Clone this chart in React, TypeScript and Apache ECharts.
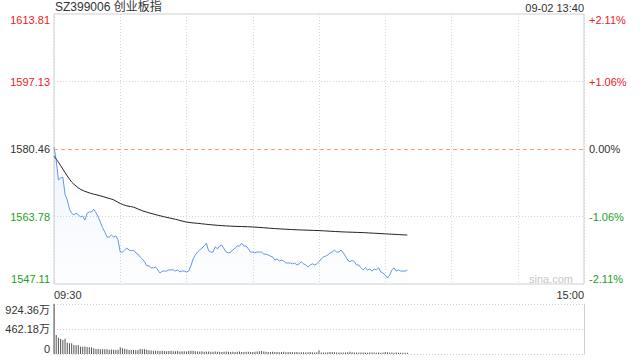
import React, { useEffect, useRef } from "react";
import * as echarts from "echarts";

const title = "SZ399006 创业板指";
const timeStamp = "09-02 13:40";
const timeLabels = ["09:30", "15:00"];
const priceTicks = [1547.11, 1563.78, 1580.46, 1597.13, 1613.81];
const priceTickLabels = ["1547.11", "1563.78", "1580.46", "1597.13", "1613.81"];
const pctTickLabels = ["-2.11%", "-1.06%", "0.00%", "+1.06%", "+2.11%"];
const volTickLabels = ["0", "462.18万", "924.36万"];
const volMax = 924.36;
const totalMinutes = 240;

// minute-by-minute price, 09:30 .. 13:40 (index 0..160)
const prices = [
  1580.9, 1577.7, 1572.8, 1573.3, 1573.5, 1569.3, 1567.9, 1565.6, 1564.6, 1564.2,
  1564.6, 1564.2, 1563.7, 1563.9, 1562.9, 1564.6, 1564.9, 1564.9, 1565.6, 1564.7,
  1563.7, 1562.4, 1561.0, 1560.0, 1558.7, 1558.7, 1559.2, 1558.7, 1559.0, 1558.0,
  1555.0, 1555.0, 1555.5, 1556.0, 1555.5, 1555.3, 1555.5, 1554.8, 1554.5, 1553.8,
  1553.3, 1552.6, 1551.6, 1551.6, 1551.1, 1551.1, 1551.3, 1550.6, 1549.8, 1550.3,
  1550.3, 1550.3, 1550.6, 1550.6, 1550.6, 1550.3, 1550.6, 1550.1, 1550.3, 1550.3,
  1550.1, 1550.3, 1551.6, 1553.3, 1554.3, 1555.0, 1555.5, 1556.0, 1556.5, 1557.2,
  1555.3, 1555.0, 1555.0, 1556.3, 1555.8, 1556.5, 1556.7, 1555.8, 1555.0, 1554.8,
  1555.0, 1555.5, 1556.0, 1556.5, 1556.5, 1557.2, 1556.5, 1556.5, 1555.8, 1555.0,
  1555.0, 1554.8, 1555.0, 1555.0, 1555.0, 1554.5, 1554.5, 1554.3, 1554.0, 1553.8,
  1553.0, 1553.3, 1552.8, 1553.0, 1552.8, 1552.3, 1552.3, 1552.3, 1552.1, 1552.3,
  1551.8, 1552.1, 1552.6, 1552.1, 1551.8, 1551.3, 1551.8, 1552.1, 1551.8, 1552.1,
  1552.6, 1553.3, 1553.8, 1554.0, 1554.3, 1554.8, 1555.0, 1555.5, 1555.0, 1555.0,
  1555.5, 1554.8, 1554.0, 1553.0, 1552.6, 1553.0, 1552.6, 1551.8, 1551.8, 1551.1,
  1550.6, 1551.1, 1550.6, 1550.8, 1550.3, 1550.8, 1550.6, 1551.1, 1550.1, 1549.8,
  1549.3, 1548.6, 1549.3, 1550.6, 1551.1, 1550.3, 1550.6, 1550.3, 1550.3, 1550.3,
  1550.6,
];

// average price line, sampled at minute indexes
const avgMinutes = [0, 2, 4, 6, 8, 10, 12, 15, 18, 21, 24, 27, 30, 33, 36, 40, 45, 50, 55, 60, 65, 72, 80, 90, 100, 110, 120, 130, 140, 150, 160];
const avgPrices = [
  1578.7, 1577.2, 1575.5, 1573.8, 1572.3, 1571.3, 1570.5, 1569.8, 1569.3, 1568.9,
  1568.4, 1567.9, 1567.0, 1566.4, 1566.1, 1565.2, 1564.4, 1563.7, 1563.1, 1562.4,
  1562.1, 1561.7, 1561.4, 1561.2, 1560.8, 1560.5, 1560.3, 1560.0, 1559.8, 1559.5,
  1559.2,
];

// volume per minute (万)
const volumes = [
  924.36, 351, 302, 277, 259, 280, 210, 197, 199, 166,
  163, 160, 136, 134, 138, 129, 123, 126, 105, 92,
  95, 86, 88, 90, 86, 80, 84, 78, 74, 80,
  124, 105, 98, 86, 74, 72, 76, 70, 74, 92,
  90, 86, 80, 70, 66, 60, 62, 58, 55, 60,
  56, 52, 55, 60, 52, 50, 55, 48, 52, 50,
  47, 55, 60, 58, 52, 48, 45, 50, 43, 48,
  44, 40, 42, 46, 40, 43, 38, 42, 45, 40,
  36, 42, 38, 40, 44, 38, 36, 40, 42, 37,
  35, 40, 48, 52, 56, 45, 40, 38, 36, 40,
  35, 38, 34, 36, 40, 33, 35, 38, 34, 32,
  36, 30, 34, 32, 30, 33, 35, 31, 29, 32,
  70, 28, 30, 27, 32, 35, 38, 32, 30, 28,
  26, 30, 28, 32, 40, 34, 30, 28, 26, 29,
  27, 30, 25, 28, 26, 30, 24, 27, 25, 28,
  38, 32, 28, 26, 24, 27, 22, 25, 23, 21,
  24,
];

const RED = "#f02020";
const GREEN = "#22a022";
const DARK = "#333";
const FONT = "Arial, 'Liberation Sans', 'Noto Sans CJK SC', sans-serif";

const pMin = priceTicks[0];
const pMax = priceTicks[priceTicks.length - 1];
const toUnit = (p: number) => ((p - pMin) / (pMax - pMin)) * (priceTicks.length - 1);
const labelColor = (_v: any, i: number) => (i < 2 ? GREEN : i === 2 ? DARK : RED);

export default function App() {
  const ref = useRef<HTMLDivElement>(null);
  useEffect(() => {
    if (!ref.current) return;
    const chart = echarts.init(ref.current, null, { renderer: "svg" });
    const priceData = prices.map((p, i) => [i, toUnit(p)]);
    const avgData = avgMinutes.map((m, i) => [m, toUnit(avgPrices[i])]);
    const volData = volumes.map((v, i) => [i, v]);
    chart.setOption({
      animation: false,
      textStyle: { fontFamily: FONT },
      graphic: [
        { type: "text", left: 55, top: 1, style: { text: title, fontSize: 12, fill: DARK, fontFamily: FONT } },
        { type: "text", right: 56, top: 2, style: { text: timeStamp, fontSize: 11, fill: DARK, fontFamily: FONT } },
        { type: "text", right: 67, top: 273, style: { text: "sina.com", fontSize: 11, fill: "#c8c8c8", fontFamily: FONT } },
      ],
      grid: [
        { left: 54, width: 530, top: 14, height: 270, show: true, borderColor: "#cfcfcf", borderWidth: 1, backgroundColor: "transparent" },
        { left: 54, width: 530, top: 304, height: 50, show: false },
      ],
      xAxis: [
        {
          type: "value", gridIndex: 0, min: 0, max: totalMinutes, interval: 30,
          axisLine: { show: false }, axisTick: { show: false },
          axisLabel: {
            show: true, margin: 5, fontSize: 11, color: DARK,
            alignMinLabel: "left", alignMaxLabel: "right",
            formatter: (v: number) => (v === 0 ? timeLabels[0] : v === totalMinutes ? timeLabels[1] : ""),
          },
          splitLine: { show: true, lineStyle: { color: "#d6d6d6", type: [1, 2], width: 1 } },
        },
        {
          type: "value", gridIndex: 1, min: 0, max: totalMinutes, interval: 30,
          axisLine: { show: false }, axisTick: { show: false }, axisLabel: { show: false },
          splitLine: { show: false },
        },
      ],
      yAxis: [
        {
          type: "value", gridIndex: 0, min: 0, max: 4, interval: 1, position: "left",
          axisLine: { show: false }, axisTick: { show: false },
          axisLabel: {
            margin: 4, fontSize: 11, color: labelColor,
            verticalAlignMinLabel: "bottom", verticalAlignMaxLabel: "top",
            formatter: (_v: number, i: number) => priceTickLabels[i],
          },
          splitLine: {
            show: true,
            lineStyle: { color: ["transparent", "#d6d6d6", "transparent", "#d6d6d6", "transparent"], type: [1, 2] },
          },
        },
        {
          type: "value", gridIndex: 0, min: 0, max: 4, interval: 1, position: "right",
          axisLine: { show: false }, axisTick: { show: false },
          axisLabel: {
            margin: 5, fontSize: 11, color: labelColor,
            verticalAlignMinLabel: "bottom", verticalAlignMaxLabel: "top",
            formatter: (_v: number, i: number) => pctTickLabels[i],
          },
          splitLine: { show: false },
        },
        {
          type: "value", gridIndex: 1, min: 0, max: volMax, interval: volMax / 2, position: "left",
          axisLine: { show: true, lineStyle: { color: "#cfcfcf" } }, axisTick: { show: false },
          axisLabel: {
            margin: 4, fontSize: 11, color: DARK,
            verticalAlignMinLabel: "bottom", verticalAlignMaxLabel: "top",
            formatter: (_v: number, i: number) => volTickLabels[i],
          },
          splitLine: { show: true, lineStyle: { color: "#cfcfcf", type: [1, 2] } },
        },
        {
          type: "value", gridIndex: 1, min: 0, max: volMax, interval: volMax / 2, position: "right",
          axisLine: { show: true, lineStyle: { color: "#cfcfcf" } }, axisTick: { show: false },
          axisLabel: { show: false }, splitLine: { show: false },
        },
      ],
      series: [
        {
          type: "line", xAxisIndex: 0, yAxisIndex: 0, data: priceData, symbol: "none",
          lineStyle: { color: "#6394ec", width: 1 },
          areaStyle: {
            origin: "start",
            color: new echarts.graphic.LinearGradient(0, 0, 0, 1, [
              { offset: 0, color: "rgba(99,148,236,0.14)" },
              { offset: 1, color: "rgba(99,148,236,0.02)" },
            ]),
          },
          markLine: {
            silent: true, symbol: "none", label: { show: false },
            lineStyle: { color: "#f0a070", type: [4, 3], width: 1 },
            data: [{ yAxis: 2 }],
          },
          z: 3,
        },
        {
          type: "line", xAxisIndex: 0, yAxisIndex: 0, data: avgData, symbol: "none", smooth: 0.3,
          lineStyle: { color: "#222", width: 1 }, z: 4,
        },
        {
          type: "bar", xAxisIndex: 1, yAxisIndex: 2, data: volData, barWidth: 1,
          itemStyle: { color: "#555" },
        },
      ],
    });
    return () => chart.dispose();
  }, []);
  return <div ref={ref} style={{ width: 640, height: 360, position: "absolute", left: 0, top: 0 }} />;
}
